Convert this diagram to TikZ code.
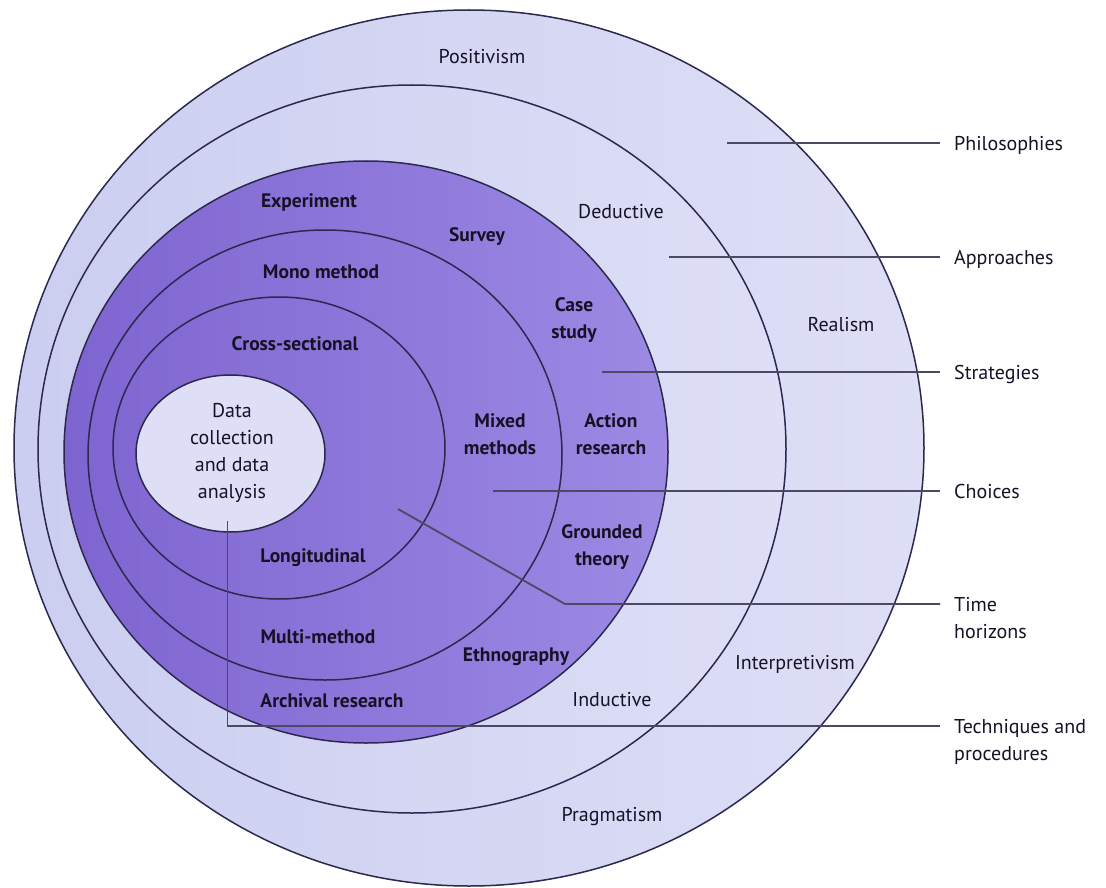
\documentclass[tikz,border=0pt]{standalone}
\usepackage{fontspec}
\setmainfont{PT Sans}
\definecolor{ringA}{RGB}{203,206,240}
\definecolor{ringB}{RGB}{222,223,246}
\definecolor{purpA}{RGB}{126,100,208}
\definecolor{purpB}{RGB}{156,138,228}
\definecolor{edgecol}{RGB}{44,40,78}
\definecolor{leadcol}{RGB}{74,74,100}
\definecolor{ink}{RGB}{22,18,38}
\begin{document}
\begin{tikzpicture}[x=1pt,y=-1pt,
  ring/.style={draw=edgecol, line width=1.5pt},
  lbl/.style={font=\fontsize{20}{27}\selectfont, text=ink, align=center, inner sep=0pt},
  plbl/.style={font=\fontsize{19.5}{27}\selectfont\bfseries, text=ink, align=center, inner sep=0pt},
  side/.style={font=\fontsize{20}{27}\selectfont, text=ink, align=left, inner xsep=14pt, inner ysep=0pt, anchor=base west},
  leadline/.style={draw=leadcol, line width=1.8pt}]
\useasboundingbox[fill=white] (0,0) rectangle (1106,888);

% rings
\path[ring, left color=ringA, right color=ringB] (469,448) ellipse [x radius=455pt, y radius=438pt];
\path[ring, left color=ringA, right color=ringB] (412,449) ellipse [x radius=374pt, y radius=364pt];
\path[ring, left color=purpA, right color=purpB] (366,452) ellipse [x radius=302pt, y radius=291pt];
\path[ring] (325,455) ellipse [x radius=237pt, y radius=225pt];
\path[ring] (279,448) ellipse [x radius=166pt, y radius=151pt];
\path[ring, fill=ringB] (230.5,453.5) ellipse [x radius=94.5pt, y radius=78.5pt];

% ring labels
\node[lbl] (positivism) at (482,57) {Positivism};
\node[lbl] (deductive) at (621,212) {Deductive};
\node[lbl] (realism) at (841,325) {Realism};
\node[lbl] (interpretivism) at (795,664) {Interpretivism};
\node[lbl] (inductive) at (612,700) {Inductive};
\node[lbl] (pragmatism) at (612,817) {Pragmatism};
\node[plbl] (experiment) at (309,203) {Experiment};
\node[plbl] (survey) at (477,237) {Survey};
\node[plbl] (casestudy) at (574,320) {Case\\study};
\node[plbl] (mono) at (321,272) {Mono method};
\node[plbl] (cross) at (295,344) {Cross-sectional};
\node[plbl] (mixed) at (500,434) {Mixed\\methods};
\node[plbl] (action) at (611,434) {Action\\research};
\node[lbl] (data) at (232,453) {Data\\collection\\and data\\analysis};
\node[plbl] (grounded) at (602,547) {Grounded\\theory};
\node[plbl] (longitudinal) at (313,558) {Longitudinal};
\node[plbl] (multi) at (318,637) {Multi-method};
\node[plbl] (ethno) at (516,657) {Ethnography};
\node[plbl] (archival) at (332,701) {Archival research};

% side labels
\node[side] (philL) at (940,150) {Philosophies};
\node[side] (apprL) at (940,264) {Approaches};
\node[side] (stratL) at (940,379) {Strategies};
\node[side] (choiL) at (940,498) {Choices};
\node[side] (timeL) at (940,638) {Time\\horizons};
\node[side] (techL) at (940,760) {Techniques and\\procedures};

% leader lines
\coordinate (philS) at (727,143);
\coordinate (apprS) at (669,257);
\coordinate (stratS) at (602,372);
\coordinate (choiS) at (493,491);
\coordinate (timeS) at (398,509);
\coordinate (timeB) at (565,604);
\coordinate (techS) at (227.5,521);
\coordinate (techB) at (227.5,726);

\draw[leadline] (philS) -- (philS -| philL.west);
\draw[leadline] (apprS) -- (apprS -| apprL.west);
\draw[leadline] (stratS) -- (stratS -| stratL.west);
\draw[leadline] (choiS) -- (choiS -| choiL.west);
\draw[leadline] (timeS) -- (timeB) -- (timeB -| timeL.west);
\draw[leadline] (techS) -- (techB) -- (techB -| techL.west);
\end{tikzpicture}
\end{document}
